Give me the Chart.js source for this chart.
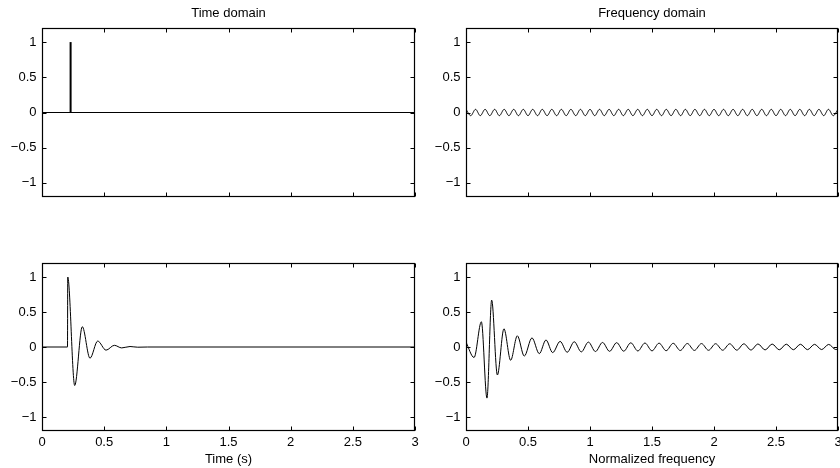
<!DOCTYPE html>
<html>
<head>
<meta charset="utf-8">
<script src="https://cdn.jsdelivr.net/npm/chart.js@4.4.1/dist/chart.umd.min.js"></script>
<style>
  html, body { margin: 0; padding: 0; background: #fff; }
  #wrap { position: relative; width: 840px; height: 468px; overflow: hidden; }
  canvas { position: absolute; }
</style>
</head>
<body>
<div id="wrap">
  <canvas id="timeTop" width="420" height="232" style="left:0;top:0"></canvas>
  <canvas id="freqTop" width="420" height="232" style="left:420px;top:0"></canvas>
  <canvas id="timeBottom" width="420" height="234" style="left:0;top:234px"></canvas>
  <canvas id="freqBottom" width="420" height="234" style="left:420px;top:234px"></canvas>
</div>
<script>
// tick labels shared by all four panels
const xTicks = [0, 0.5, 1, 1.5, 2, 2.5, 3];
const yTicks = [-1, -0.5, 0, 0.5, 1];

// top left: unit impulse on a zero baseline
const impulseBaseT = [0, 3];
const impulseBaseV = [0, 0];
const impulseT = [0.23, 0.23];
const impulseV = [0, 1];

// top right: small ripple (peaks and troughs)
const rippleT = [0, 0.038, 0.077, 0.115, 0.154, 0.192, 0.231, 0.269, 0.308, 0.346, 0.385, 0.423, 0.462,
  0.5, 0.538, 0.577, 0.615, 0.654, 0.692, 0.731, 0.769, 0.808, 0.846, 0.885, 0.923, 0.962,
  1, 1.038, 1.077, 1.115, 1.154, 1.192, 1.231, 1.269, 1.308, 1.346, 1.385, 1.423, 1.462,
  1.5, 1.538, 1.577, 1.615, 1.654, 1.692, 1.731, 1.769, 1.808, 1.846, 1.885, 1.923, 1.962,
  2, 2.038, 2.077, 2.115, 2.154, 2.192, 2.231, 2.269, 2.308, 2.346, 2.385, 2.423, 2.462,
  2.5, 2.538, 2.577, 2.615, 2.654, 2.692, 2.731, 2.769, 2.808, 2.846, 2.885, 2.923, 2.962, 3];
const rippleV = [0.045, -0.045, 0.045, -0.045, 0.045, -0.045, 0.045, -0.045, 0.045, -0.045, 0.045, -0.045, 0.045,
  -0.045, 0.045, -0.045, 0.045, -0.045, 0.045, -0.045, 0.045, -0.045, 0.045, -0.045, 0.045, -0.045,
  0.045, -0.045, 0.045, -0.045, 0.045, -0.045, 0.045, -0.045, 0.045, -0.045, 0.045, -0.045, 0.045,
  -0.045, 0.045, -0.045, 0.045, -0.045, 0.045, -0.045, 0.045, -0.045, 0.045, -0.045, 0.045, -0.045,
  0.045, -0.045, 0.045, -0.045, 0.045, -0.045, 0.045, -0.045, 0.045, -0.045, 0.045, -0.045, 0.045,
  -0.045, 0.045, -0.045, 0.045, -0.045, 0.045, -0.045, 0.045, -0.045, 0.045, -0.045, 0.045, -0.045, 0.045];

// bottom left: damped response
const respT = [0, 0.205, 0.207, 0.263, 0.324, 0.386, 0.448, 0.515, 0.582, 0.641, 0.708, 0.77, 0.85, 3];
const respV = [0, 0, 1, -0.55, 0.29, -0.16, 0.085, -0.045, 0.024, -0.013, 0.007, -0.003, 0, 0];

// bottom right: oscillation vs normalized frequency
const freqT = [0, 0.065, 0.124, 0.169, 0.207, 0.253, 0.306, 0.36, 0.414, 0.47, 0.532, 0.591, 0.645, 0.699,
  0.759, 0.816, 0.873, 0.93, 0.987, 1.044, 1.101, 1.158, 1.215, 1.272, 1.329, 1.386, 1.443, 1.5,
  1.557, 1.614, 1.671, 1.728, 1.785, 1.842, 1.899, 1.956, 2.013, 2.07, 2.127, 2.184, 2.241, 2.298,
  2.355, 2.412, 2.469, 2.526, 2.583, 2.64, 2.697, 2.754, 2.811, 2.868, 2.925, 2.982, 3];
const freqV = [0.07, -0.15, 0.36, -0.73, 0.67, -0.4, 0.26, -0.19, 0.16, -0.13, 0.13, -0.095, 0.1, -0.08,
  0.08, -0.075, 0.075, -0.07, 0.07, -0.065, 0.065, -0.062, 0.062, -0.06, 0.06, -0.057, 0.057, -0.055,
  0.055, -0.053, 0.053, -0.05, 0.05, -0.049, 0.049, -0.047, 0.047, -0.046, 0.046, -0.045, 0.045, -0.043,
  0.043, -0.042, 0.042, -0.04, 0.04, -0.039, 0.039, -0.038, 0.038, -0.037, 0.037, -0.036, -0.03];

const FONT = { family: "'Liberation Sans', Arial, Helvetica, sans-serif", size: 13 };
const TICK = 4;

function pts(ts, vs) {
  return ts.map((t, i) => ({ x: t, y: vs[i] }));
}

function fmt(v) {
  return String(v).replace('-', '\u2212');
}

// MATLAB style box with inward ticks on all four sides
const boxPlugin = {
  id: 'box',
  afterDatasetsDraw(chart) {
    const { ctx, chartArea: a, scales } = chart;
    const x = scales.x, y = scales.y;
    const L = Math.round(a.left) + 0.5, R = Math.round(a.right) - 0.5;
    const T = Math.round(a.top) + 0.5, B = Math.round(a.bottom) - 0.5;
    ctx.save();
    ctx.strokeStyle = '#000';
    ctx.lineWidth = 1;
    ctx.beginPath();
    xTicks.forEach(v => {
      const px = Math.round(x.getPixelForValue(v)) + 0.5;
      ctx.moveTo(px, B); ctx.lineTo(px, B - TICK);
      ctx.moveTo(px, T); ctx.lineTo(px, T + TICK);
    });
    yTicks.forEach(v => {
      const py = Math.round(y.getPixelForValue(v)) + 0.5;
      ctx.moveTo(L, py); ctx.lineTo(L + TICK, py);
      ctx.moveTo(R, py); ctx.lineTo(R - TICK, py);
    });
    ctx.stroke();
    ctx.lineWidth = 1.2;
    ctx.strokeRect(L, T, R - L, B - T);
    ctx.restore();
  }
};

function makePanel(id, cfg) {
  return new Chart(document.getElementById(id), {
    type: 'line',
    data: { datasets: cfg.datasets },
    options: {
      responsive: false,
      animation: false,
      events: [],
      layout: { padding: { top: cfg.padTop, right: cfg.padRight, bottom: 0, left: 0 } },
      plugins: {
        legend: { display: false },
        tooltip: { enabled: false },
        title: {
          display: !!cfg.title,
          text: cfg.title || '',
          fullSize: false,
          color: '#000',
          font: { ...FONT, weight: 'normal' },
          padding: { top: 5.5, bottom: 6.9 }
        }
      },
      scales: {
        x: {
          type: 'linear',
          min: 0,
          max: 3,
          grid: { display: false, drawTicks: false },
          border: { display: false },
          ticks: {
            display: cfg.xLabels,
            color: '#000',
            font: FONT,
            padding: 4,
            maxRotation: 0,
            autoSkip: false,
            callback: fmt
          },
          title: {
            display: !!cfg.xTitle,
            text: cfg.xTitle || '',
            color: '#000',
            font: FONT,
            padding: { top: 0, bottom: 1.2 }
          },
          afterBuildTicks: s => { s.ticks = xTicks.map(v => ({ value: v })); },
          afterFit: s => { s.height = cfg.xHeight; s.paddingLeft = 0; s.paddingRight = 0; }
        },
        y: {
          type: 'linear',
          min: -1.2,
          max: 1.2,
          grid: { display: false, drawTicks: false },
          border: { display: false },
          ticks: { color: '#000', font: FONT, padding: 5.5, callback: fmt },
          afterBuildTicks: s => { s.ticks = yTicks.map(v => ({ value: v })); },
          afterFit: s => { s.width = cfg.yWidth; s.paddingTop = 0; s.paddingBottom = 0; }
        }
      }
    },
    plugins: [boxPlugin]
  });
}

function line(data, width, smooth) {
  return {
    data: data,
    borderColor: '#000',
    borderWidth: width,
    pointRadius: 0,
    fill: false,
    tension: 0,
    cubicInterpolationMode: smooth ? 'monotone' : 'default'
  };
}

makePanel('timeTop', {
  title: 'Time domain', padTop: 0, padRight: 5, xHeight: 35, yWidth: 42, xLabels: false,
  datasets: [line(pts(impulseBaseT, impulseBaseV), 1, false), line(pts(impulseT, impulseV), 2, false)]
});

makePanel('freqTop', {
  title: 'Frequency domain', padTop: 0, padRight: 2, xHeight: 35, yWidth: 46, xLabels: false,
  datasets: [line(pts(rippleT, rippleV), 1, true)]
});

makePanel('timeBottom', {
  xTitle: 'Time (s)', padTop: 29, padRight: 5, xHeight: 37, yWidth: 42, xLabels: true,
  datasets: [line(pts(respT, respV), 1, true)]
});

makePanel('freqBottom', {
  xTitle: 'Normalized frequency', padTop: 29, padRight: 2, xHeight: 37, yWidth: 46, xLabels: true,
  datasets: [line(pts(freqT, freqV), 1, true)]
});
</script>
</body>
</html>
